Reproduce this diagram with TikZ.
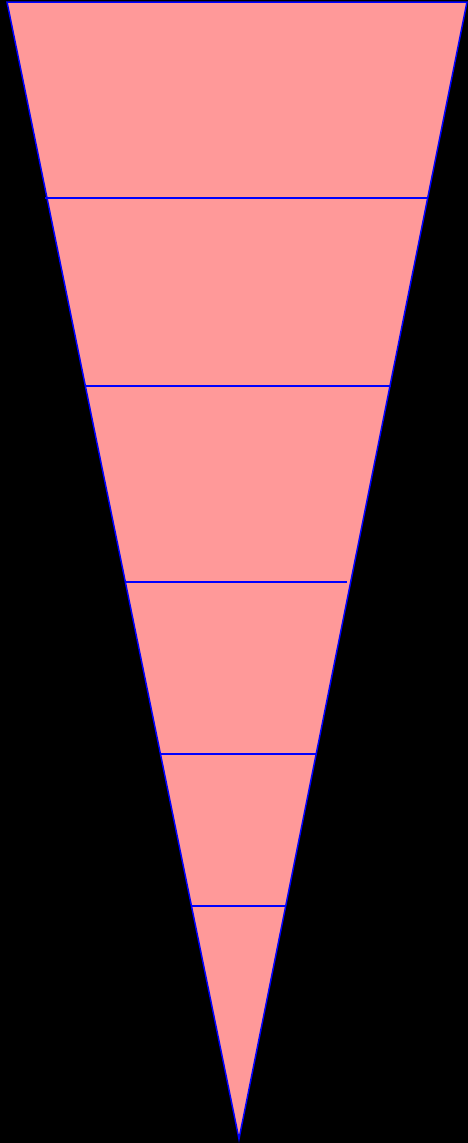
\documentclass[tikz,border=0pt]{standalone}
\definecolor{pinkfill}{RGB}{255,153,153}
\definecolor{edgeblue}{RGB}{0,0,255}
\begin{document}
\begin{tikzpicture}[x=1pt,y=-1pt,
  edge/.style={draw=edgeblue,line width=1.5pt,line join=miter},
  band/.style={draw=edgeblue,line width=1.5pt}]
\useasboundingbox[fill=black] (0,0) rectangle (468,1143);
\coordinate (tl) at (7,2);
\coordinate (tr) at (467,2);
\coordinate (ap) at (239,1139);
\path[edge,fill=pinkfill] (tl) -- (tr) -- (ap) -- cycle;
\coordinate (a1) at (45,198);  \coordinate (b1) at (428,198);
\coordinate (a2) at (86,386);  \coordinate (b2) at (391,386);
\coordinate (a3) at (126,582); \coordinate (b3) at (347,582);
\coordinate (a4) at (160,754); \coordinate (b4) at (317,754);
\coordinate (a5) at (192,906); \coordinate (b5) at (286,906);
\foreach \i in {1,...,5} \draw[band] (a\i) -- (b\i);
\end{tikzpicture}
\end{document}
